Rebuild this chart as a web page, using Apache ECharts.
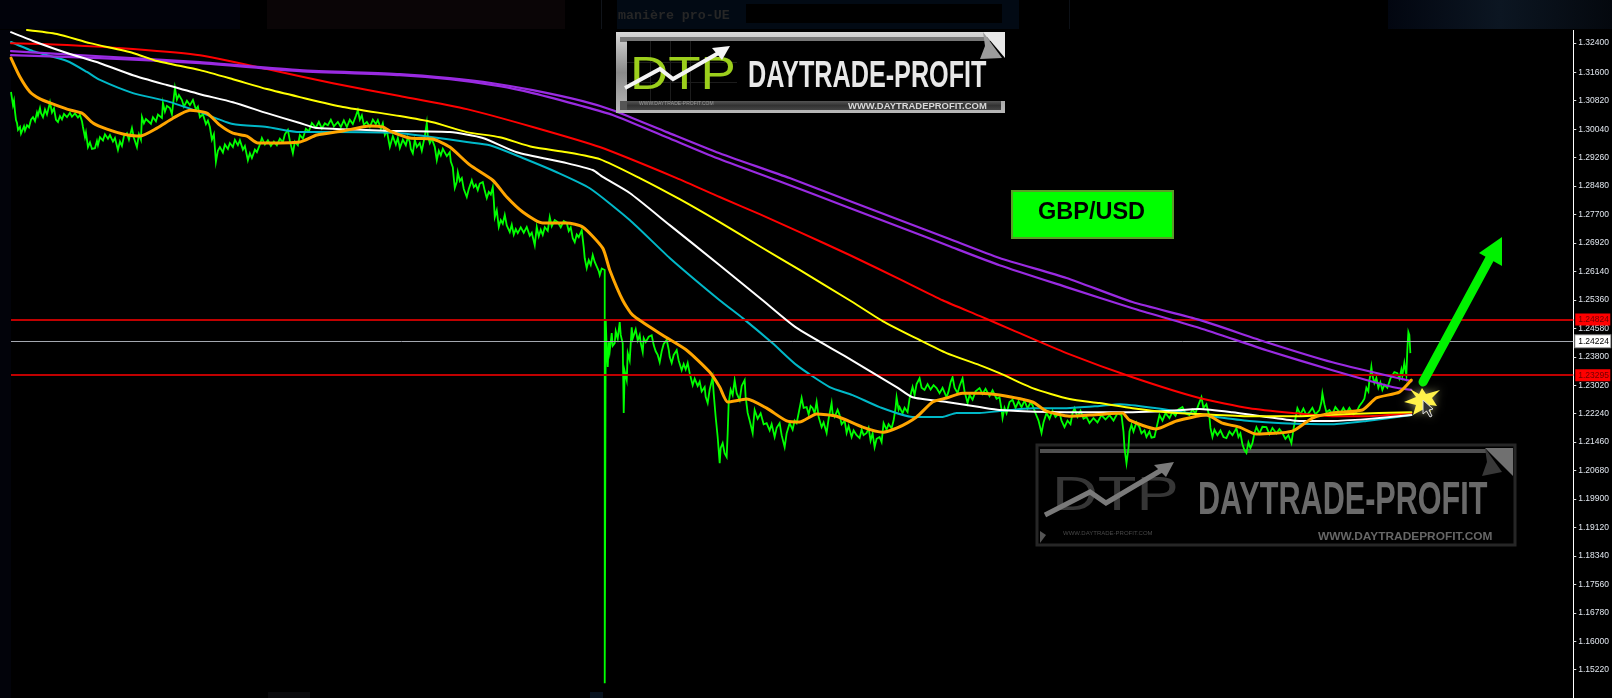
<!DOCTYPE html>
<html><head><meta charset="utf-8"><title>GBP/USD</title>
<style>html,body{margin:0;padding:0;background:#000;overflow:hidden}#c{width:1612px;height:698px}</style>
<script src="https://cdn.jsdelivr.net/npm/echarts@6/dist/echarts.min.js"></script>
</head><body><div id="c"></div>
<script>
const axisTicks=[1.324,1.316,1.3082,1.3004,1.2926,1.2848,1.277,1.2692,1.2614,1.2536,1.2458,1.238,1.2302,1.2224,1.2146,1.2068,1.199,1.1912,1.1834,1.1756,1.1678,1.16,1.1522];
const levelUpper=1.24824, levelCurrent=1.24224, levelLower=1.23295;

// [bar, close]
const priceSeries=[
[11,1.3106],[12,1.3088],[13,1.3070],[14,1.3082],[15,1.3052],[16,1.3029],[17,1.3021],[18,1.3002],[20,1.3010],[21,1.2992],[22,1.2996],[24,1.3012],[25,1.3000],[27,1.3015],[29,1.3009],[31,1.3030],[33,1.3037],[35,1.3026],[37,1.3050],[38,1.3041],[40,1.3062],[41,1.3048],[43,1.3037],[45,1.3058],[47,1.3044],[50,1.3078],[52,1.3050],[54,1.3061],[56,1.3030],[58,1.3024],[60,1.3040],[62,1.3031],[64,1.3046],[67,1.3037],[70,1.3049],[72,1.3038],[75,1.3047],[78,1.3036],[80,1.3043],[82,1.3026],[83,1.3010],[85,1.2982],[86,1.2995],[88,1.2955],[90,1.2968],[92,1.2950],[95,1.2952],[97,1.2972],[98,1.2960],[100,1.2982],[103,1.2973],[105,1.2990],[108,1.2978],[110,1.2988],[113,1.2970],[115,1.2980],[118,1.2947],[120,1.2970],[122,1.2958],[124,1.2985],[127,1.2993],[129,1.2975],[132,1.3007],[134,1.2980],[137,1.2955],[139,1.2990],[141,1.2975],[142,1.3037],[144,1.3020],[146,1.3032],[148,1.3034],[151,1.3019],[153,1.3037],[156,1.3026],[158,1.3044],[160,1.3048],[162,1.3035],[163,1.3076],[165,1.3052],[167,1.3068],[170,1.3062],[172,1.3045],[175,1.3117],[177,1.3085],[179,1.3098],[182,1.3084],[184,1.3066],[187,1.3082],[190,1.3070],[193,1.3084],[196,1.3058],[198,1.3066],[200,1.3037],[203,1.3045],[206,1.3018],[208,1.3028],[210,1.3010],[212,1.2975],[214,1.2990],[216,1.2914],[218,1.2945],[220,1.2955],[223,1.2940],[225,1.2962],[228,1.2950],[230,1.2966],[233,1.2955],[235,1.2975],[238,1.2960],[240,1.2974],[243,1.2948],[245,1.2958],[248,1.2919],[250,1.2938],[252,1.2925],[255,1.2948],[257,1.2941],[260,1.2962],[262,1.2980],[265,1.2962],[268,1.2974],[271,1.2958],[274,1.2970],[277,1.2960],[280,1.2978],[283,1.2968],[285,1.2990],[288,1.3002],[290,1.2972],[293,1.2938],[295,1.2970],[298,1.2960],[300,1.2988],[303,1.2978],[306,1.3005],[309,1.2998],[312,1.3021],[316,1.3008],[319,1.3024],[322,1.3006],[325,1.3020],[328,1.3015],[331,1.3030],[334,1.3012],[338,1.3024],[341,1.3010],[344,1.3028],[347,1.3010],[350,1.3030],[353,1.3018],[356,1.3040],[358,1.3056],[360,1.3030],[362,1.3042],[364,1.3016],[367,1.3024],[370,1.3010],[373,1.3030],[376,1.3018],[378,1.3029],[381,1.3005],[383,1.3020],[385,1.2988],[387,1.3000],[390,1.2955],[393,1.2985],[396,1.2962],[398,1.2980],[400,1.2952],[403,1.2975],[406,1.2960],[408,1.2982],[410,1.2969],[411,1.2950],[413,1.2938],[415,1.2975],[417,1.2955],[420,1.2966],[422,1.2945],[424,1.2947],[425,1.2985],[427,1.3021],[428,1.2985],[430,1.2966],[432,1.2978],[435,1.2955],[437,1.2919],[439,1.2945],[441,1.2932],[443,1.2950],[445,1.2947],[447,1.2930],[450,1.2941],[451,1.2915],[453,1.2900],[454,1.2870],[455,1.2843],[457,1.2860],[458,1.2886],[460,1.2862],[462,1.2870],[464,1.2840],[467,1.2818],[469,1.2840],[472,1.2864],[474,1.2845],[476,1.2852],[478,1.2837],[480,1.2855],[483,1.2859],[485,1.2835],[487,1.2815],[489,1.2832],[491,1.2825],[493,1.2845],[494,1.2810],[495,1.2763],[497,1.2782],[499,1.2736],[501,1.2755],[503,1.2745],[505,1.2769],[507,1.2740],[510,1.2722],[512,1.2742],[514,1.2715],[516,1.2730],[518,1.2719],[521,1.2735],[524,1.2720],[527,1.2736],[530,1.2712],[532,1.2720],[535,1.2686],[537,1.2736],[539,1.2710],[541,1.2728],[543,1.2714],[545,1.2735],[548,1.2725],[550,1.2763],[552,1.2738],[555,1.2755],[558,1.2749],[561,1.2735],[564,1.2752],[567,1.2747],[569,1.2725],[571,1.2735],[573,1.2705],[575,1.2694],[577,1.2715],[579,1.2708],[582,1.2727],[584,1.2680],[585,1.2650],[587,1.2623],[589,1.2645],[591,1.2632],[593,1.2659],[595,1.2640],[597,1.2637],[599,1.2615],[600,1.2604],[602,1.2622],[605,1.2618],[605,1.1485],[606,1.2481],
[607,1.2400],[608,1.2352],[609,1.2420],[610,1.2395],[612,1.2445],[613,1.2410],[615,1.2417],[616,1.2450],[618,1.2430],[620,1.2475],[621,1.2440],[623,1.2417],[624,1.2226],[625,1.2340],[627,1.2316],[628,1.2390],[630,1.2370],[632,1.2461],[633,1.2430],[635,1.2426],[636,1.2455],[638,1.2425],[640,1.2440],[641,1.2418],[643,1.2393],[644,1.2431],[646,1.2420],[649,1.2435],[652,1.2439],[654,1.2412],[656,1.2395],[658,1.2385],[660,1.2365],[662,1.2395],[664,1.2415],[667,1.2426],[669,1.2400],[670,1.2380],[672,1.2363],[674,1.2385],[677,1.2398],[679,1.2370],[682,1.2343],[684,1.2360],[686,1.2345],[688,1.2363],[690,1.2335],[693,1.2302],[695,1.2320],[698,1.2300],[700,1.2312],[702,1.2285],[705,1.2297],[706,1.2270],[708,1.2253],[710,1.2290],[713,1.2324],[714,1.2280],[716,1.2215],[718,1.2160],[720,1.2088],[721,1.2130],[723,1.2143],[725,1.2115],[727,1.2105],[728,1.2170],[729,1.2253],[731,1.2290],[733,1.2275],[735,1.2316],[737,1.2280],[740,1.2261],[742,1.2300],[745,1.2316],[746,1.2270],[748,1.2226],[750,1.2205],[753,1.2171],[754,1.2205],[755,1.2234],[758,1.2210],[761,1.2225],[764,1.2195],[767,1.2198],[770,1.2178],[772,1.2195],[775,1.2160],[777,1.2185],[780,1.2198],[782,1.2165],[785,1.2132],[787,1.2170],[790,1.2198],[793,1.2180],[795,1.2205],[797,1.2198],[799,1.2225],[802,1.2267],[804,1.2240],[807,1.2242],[809,1.2222],[811,1.2245],[813,1.2239],[815,1.2225],[817,1.2256],[819,1.2215],[822,1.2187],[824,1.2200],[827,1.2171],[829,1.2210],[832,1.2253],[833,1.2225],[835,1.2215],[838,1.2235],[840,1.2220],[842,1.2195],[845,1.2205],[847,1.2171],[849,1.2190],[852,1.2160],[854,1.2178],[857,1.2165],[860,1.2157],[862,1.2180],[864,1.2165],[867,1.2171],[869,1.2185],[871,1.2150],[873,1.2170],[875,1.2132],[877,1.2155],[880,1.2160],[882,1.2146],[884,1.2198],[887,1.2180],[889,1.2195],[892,1.2184],[894,1.2205],[896,1.2240],[897,1.2269],[899,1.2235],[900,1.2242],[903,1.2225],[905,1.2240],[908,1.2228],[910,1.2265],[913,1.2297],[915,1.2275],[917,1.2305],[920,1.2321],[922,1.2295],[925,1.2289],[928,1.2305],[931,1.2290],[934,1.2302],[937,1.2294],[940,1.2280],[943,1.2295],[947,1.2269],[949,1.2285],[951,1.2310],[953,1.2324],[955,1.2295],[958,1.2280],[960,1.2300],[963,1.2321],[965,1.2285],[968,1.2253],[970,1.2275],[973,1.2262],[976,1.2285],[980,1.2294],[983,1.2278],[986,1.2292],[990,1.2272],[993,1.2288],[997,1.2265],[1000,1.2269],[1002,1.2235],[1003,1.2212],[1005,1.2240],[1007,1.2225],[1010,1.2256],[1013,1.2262],[1016,1.2240],[1019,1.2258],[1022,1.2242],[1025,1.2260],[1028,1.2238],[1031,1.2255],[1033,1.2247],[1036,1.2225],[1039,1.2205],[1042,1.2171],[1044,1.2200],[1047,1.2226],[1050,1.2210],[1053,1.2232],[1056,1.2215],[1060,1.2226],[1062,1.2205],[1065,1.2187],[1068,1.2205],[1071,1.2195],[1073,1.2225],[1075,1.2239],[1078,1.2215],[1081,1.2232],[1084,1.2210],[1087,1.2215],[1090,1.2198],[1094,1.2212],[1098,1.2200],[1102,1.2220],[1106,1.2208],[1110,1.2220],[1114,1.2205],[1118,1.2225],[1122,1.2220],[1124,1.2175],[1125,1.2130],[1127,1.2088],[1129,1.2130],[1130,1.2175],[1132,1.2193],[1134,1.2175],[1137,1.2200],[1140,1.2187],[1142,1.2170],[1145,1.2178],[1147,1.2160],[1150,1.2175],[1152,1.2158],[1155,1.2160],[1157,1.2185],[1160,1.2220],[1163,1.2205],[1166,1.2225],[1170,1.2212],[1173,1.2228],[1176,1.2218],[1179,1.2236],[1183,1.2242],[1186,1.2225],[1190,1.2220],[1193,1.2235],[1196,1.2225],[1199,1.2248],[1202,1.2269],[1204,1.2240],[1207,1.2250],[1210,1.2215],[1211,1.2185],[1213,1.2160],[1215,1.2180],[1218,1.2165],[1221,1.2178],[1224,1.2160],[1227,1.2157],[1230,1.2175],[1233,1.2165],[1237,1.2184],[1239,1.2160],[1241,1.2170],[1243,1.2140],[1245,1.2124],[1247,1.2116],[1249,1.2145],[1251,1.2130],[1253,1.2143],[1255,1.2170],[1257,1.2187],[1260,1.2170],[1263,1.2188],[1267,1.2187],[1270,1.2168],[1273,1.2185],[1277,1.2170],[1280,1.2182],[1283,1.2171],[1286,1.2155],[1289,1.2165],[1292,1.2143],[1294,1.2180],[1296,1.2210],[1298,1.2239],[1301,1.2222],[1304,1.2238],[1307,1.2220],[1310,1.2228],[1313,1.2240],[1316,1.2222],[1320,1.2234],[1322,1.2255],[1323,1.2280],[1325,1.2250],[1327,1.2228],[1330,1.2234],[1333,1.2222],[1336,1.2242],[1338,1.2247],[1341,1.2225],[1344,1.2240],[1347,1.2226],[1350,1.2240],[1354,1.2222],[1357,1.2228],[1360,1.2245],[1363,1.2256],[1365,1.2265],[1367,1.2295],[1369,1.2285],[1370,1.2316],[1371,1.2330],[1372,1.2352],[1373,1.2330],[1375,1.2308],[1377,1.2322],[1379,1.2295],[1381,1.2310],[1383,1.2289],[1385,1.2303],[1388,1.2295],[1391,1.2320],[1393,1.2316],[1395,1.2338],[1398,1.2335],[1400,1.2320],[1402,1.2345],[1403,1.2328],[1405,1.2363],[1406,1.2345],[1407,1.2330],[1408,1.2400],[1409,1.2448],[1410,1.2440],[1411,1.2390]];

const cyanBars=[11,33,67,87,100,133,167,200,233,267,300,333,400,433,467,490,523,557,590,630,670,720,743,773,797,830,853,880,913,943,957,980,1000,1033,1067,1100,1120,1157,1183,1217,1250,1283,1333,1367,1412];
const cyanMA=[1.3243,1.3218,1.3191,1.3161,1.3139,1.3103,1.3081,1.3051,1.3018,1.3010,1.2996,1.2996,1.2993,1.2982,1.2969,1.2960,1.2925,1.2886,1.2842,1.2755,1.2651,1.2535,1.2486,1.2417,1.2357,1.2297,1.2275,1.2242,1.2215,1.2215,1.2226,1.2226,1.2231,1.2239,1.2239,1.2245,1.2250,1.2239,1.2228,1.2215,1.2204,1.2198,1.2195,1.2204,1.2220];

const redBars=[11,67,133,200,267,333,400,467,533,600,677,720,760,800,850,900,943,980,1013,1067,1133,1200,1250,1293,1333,1367,1412];
const redMA=[1.3240,1.3235,1.3224,1.3207,1.3169,1.3130,1.3095,1.3059,1.3010,1.2955,1.2870,1.2818,1.2771,1.2722,1.2659,1.2593,1.2535,1.2492,1.2453,1.2390,1.2324,1.2267,1.2239,1.2226,1.2217,1.2217,1.2226];

const purpleUpperBars=[11,100,200,300,400,450,493,533,583,613,667,717,790,850,900,950,1000,1067,1133,1200,1267,1333,1412];
const purpleUpperMA=[1.3218,1.3204,1.3188,1.3166,1.3155,1.3144,1.3130,1.3111,1.3081,1.3056,1.2996,1.2941,1.2870,1.2807,1.2755,1.2703,1.2651,1.2596,1.2530,1.2481,1.2420,1.2365,1.2313];
const purpleLowerBars=[11,100,200,300,400,450,500,533,583,613,667,717,777,850,900,950,1000,1067,1133,1200,1267,1333,1393,1412];
const purpleLowerMA=[1.3207,1.3199,1.3185,1.3163,1.3152,1.3141,1.3122,1.3103,1.3067,1.3043,1.2982,1.2925,1.2864,1.2788,1.2736,1.2683,1.2631,1.2571,1.2513,1.2459,1.2398,1.2343,1.2297,1.2289];

const whiteBars=[11,33,67,100,133,167,200,233,267,300,317,400,450,483,517,567,593,603,630,670,720,763,797,847,897,913,947,980,1000,1067,1133,1167,1200,1233,1267,1300,1333,1367,1412];
const whiteMA=[1.3270,1.3246,1.3213,1.3185,1.3152,1.3125,1.3100,1.3078,1.3048,1.3021,1.3007,1.2999,1.2996,1.2980,1.2941,1.2911,1.2892,1.2873,1.2829,1.2741,1.2631,1.2535,1.2459,1.2379,1.2297,1.2269,1.2256,1.2242,1.2234,1.2228,1.2228,1.2231,1.2237,1.2228,1.2215,1.2204,1.2204,1.2209,1.2220];

const yellowBars=[27,57,90,133,157,200,233,267,300,343,400,433,467,500,533,567,600,640,680,720,760,800,850,883,920,947,980,1000,1033,1070,1100,1133,1167,1200,1250,1300,1350,1412];
const yellowMA=[1.3276,1.3265,1.3240,1.3213,1.3191,1.3166,1.3141,1.3114,1.3092,1.3065,1.3040,1.3023,1.2996,1.2982,1.2955,1.2941,1.2922,1.2870,1.2812,1.2749,1.2683,1.2618,1.2535,1.2478,1.2426,1.2390,1.2357,1.2335,1.2294,1.2264,1.2253,1.2239,1.2228,1.2223,1.2217,1.2217,1.2223,1.2228];

const orangeBars=[11,20,30,40,50,67,82,93,107,123,140,157,173,190,207,220,233,247,258,300,317,343,370,383,390,410,433,450,470,493,507,523,543,567,583,603,610,623,633,663,687,710,720,728,747,767,787,800,817,837,863,883,897,917,933,947,963,980,1000,1033,1047,1070,1090,1123,1130,1157,1177,1207,1223,1240,1257,1293,1313,1333,1363,1377,1400,1412];
const orangeMA=[1.3199,1.3147,1.3106,1.3087,1.3076,1.3059,1.3048,1.3021,1.3004,1.2991,1.2985,1.3007,1.3034,1.3056,1.3048,1.3015,1.2993,1.2985,1.2966,1.2969,1.2988,1.2999,1.3013,1.3010,1.2999,1.2980,1.2977,1.2955,1.2906,1.2864,1.2818,1.2777,1.2747,1.2747,1.2736,1.2678,1.2618,1.2535,1.2494,1.2439,1.2398,1.2338,1.2297,1.2256,1.2264,1.2239,1.2204,1.2201,1.2223,1.2217,1.2187,1.2173,1.2184,1.2215,1.2256,1.2267,1.2280,1.2280,1.2275,1.2256,1.2231,1.2217,1.2220,1.2226,1.2206,1.2182,1.2204,1.2220,1.2198,1.2187,1.2168,1.2176,1.2212,1.2226,1.2234,1.2267,1.2283,1.2316];

const zip=(a,b)=>a.map((v,i)=>[v,b[i]]);
const maLine=(name,bars,vals,color,width,z)=>({name,type:'line',data:zip(bars,vals),symbol:'none',smooth:0.2,z,
  lineStyle:{color,width,cap:'round',join:'round'},silent:true});
const tag=(bg,fg,border)=>({show:true,position:'end',distance:2,formatter:p=>p.value.toFixed(5),
  backgroundColor:bg,color:fg,borderColor:border,borderWidth:border==='transparent'?0:1,
  fontFamily:'Liberation Sans',fontSize:8.5,padding:[2,3,1,3],width:29,align:'left'});

const rect=(x,y,w,h,fill,z,extra)=>Object.assign({type:'rect',shape:{x,y,width:w,height:h},style:{fill},z:z||1,silent:true},extra||{});
const poly=(pts,fill,z,stroke,lw,glow)=>({type:'polygon',shape:{points:pts},style:Object.assign({fill,stroke:stroke||null,lineWidth:lw||0},glow?{shadowBlur:glow,shadowColor:'#8a8a60'}:{}),z:z||1,silent:true});
const pline=(pts,stroke,lw,z,cap)=>({type:'polyline',shape:{points:pts},style:{stroke,lineWidth:lw,fill:null,lineCap:cap||'butt',lineJoin:'miter'},z:z||1,silent:true});
const txt=(text,x,y,font,fill,z,sx)=>({type:'text',x,y,scaleX:sx||1,silent:true,z:z||1,
  style:{text,font,fill,textVerticalAlign:'top',textAlign:'left'}});
const vg=(c1,c2,c3)=>({type:'linear',x:0,y:0,x2:0,y2:1,colorStops:[{offset:0,color:c1},{offset:.5,color:c2},{offset:1,color:c3}]});

const Z1=30,Z2=1;
const graphics=[
  rect(0,0,1612,30,'#000',Z2),
  rect(0,0,240,29,'#01020a',Z2),
  rect(267,0,298,29,'#0a0506',Z2),
  rect(601,0,1,29,'#10141a',Z2),
  rect(617,0,402,29,'#020a14',Z2),
  rect(746,4,256,19,'#000',Z2),
  rect(1069,0,1,29,'#0c1016',Z2),
  {type:'rect',shape:{x:1388,y:0,width:224,height:29},silent:true,z:Z2,style:{fill:{type:'linear',x:0,y:0,x2:1,y2:0,colorStops:[{offset:0,color:'#020610'},{offset:.5,color:'#0c1622'},{offset:1,color:'#04080e'}]}}},
  txt('manière pro-UE',618,9,'bold 13.3px "Liberation Mono"','#262626',Z2),
  rect(0,30,11,668,'#02030a',Z2),
  rect(590,692,13,6,'#07121e',Z2),
  rect(268,692,42,6,'#0a0a0c',Z2),

  rect(1037,445,478,100,'#000',Z2,{style:{fill:'#000',stroke:'#262626',lineWidth:3}}),
  rect(1040,449,446,4,'#505050',Z2),
  poly([[1485,448],[1513,448],[1513,476]],'#707070',Z2),
  poly([[1485,448],[1502,472],[1482,476],[1487,462]],'#383838',Z2),
  poly([[1040,531],[1046,535],[1040,543]],'#555',Z2),
  txt('DTP',1052,473,'48px "Liberation Sans"','#363636',Z2,1.32),
  pline([[1045,515],[1090,492],[1106,503],[1165,468]],'#7a7a7a',5,Z2),
  poly([[1174,462],[1154,465],[1166,477]],'#7a7a7a',Z2),
  txt('DAYTRADE-PROFIT',1198,478,'bold 46px "Liberation Sans"','#6a6a6a',Z2,0.665),
  txt('WWW.DAYTRADEPROFIT.COM',1318,531,'bold 11px "Liberation Sans"','#666',Z2,1.08),
  txt('WWW.DAYTRADE-PROFIT.COM',1063,530,'6px "Liberation Sans"','#484848',Z2,1),

  rect(616,32,389,81,vg('#d8d8d8','#8a8a8a','#b8b8b8'),Z1),
  rect(620,37,381,5,'#777',Z1),
  rect(627,41,378,60,'#000',Z1),
  rect(627,101,374,9,vg('#555','#333','#444'),Z1),
  rect(620,101,7,9,'#555',Z1),
  poly([[983,32],[1005,32],[1005,58]],'#e8e8e8',Z1),
  poly([[983,32],[1002,58],[980,59],[985,46]],'#9c9c9c',Z1),
  rect(650,41,1,60,'#1c1c1c',Z1),rect(670,41,1,60,'#1c1c1c',Z1),rect(690,41,1,60,'#1c1c1c',Z1),rect(627,62,110,1,'#1c1c1c',Z1),rect(627,82,110,1,'#1c1c1c',Z1),
  txt('DTP',630,53,'46px "Liberation Sans"','#9ccf1c',Z1,1.15),
  pline([[625,88],[660,69],[673,79],[722,51]],'#f4f4f4',4,Z1),
  poly([[730,46],[712,48],[722,60]],'#f4f4f4',Z1),
  txt('DAYTRADE-PROFIT',748,59,'bold 36px "Liberation Sans"','#e8e8e8',Z1,0.7),
  txt('WWW.DAYTRADEPROFIT.COM',848,102,'bold 9px "Liberation Sans"','#d8d8d8',Z1,1.05),
  txt('WWW.DAYTRADE-PROFIT.COM',639,101,'5px "Liberation Sans"','#999',Z1,1),

  rect(1012,191,161,47,'#00ff00',Z1,{style:{fill:'#00ff00',stroke:'#5a9e28',lineWidth:2}}),
  txt('GBP/USD',1038,201,'bold 23.5px "Liberation Sans"','#000',Z1),

  pline([[1423,382],[1490,258]],'#00f200',9,Z1,'round'),
  poly([[1502,237],[1479,253],[1502,266]],'#00f200',Z1),
  poly([[1422,388],[1426,394],[1440,390],[1432,398],[1437,406],[1430,405],[1431,417],[1424,409],[1413,415],[1416,405],[1404,402],[1416,397],[1410,389],[1419,394]],'#fff24a',Z1,null,0,8),
  poly([[1423,400],[1423,414],[1426.5,411],[1430,417],[1432,416],[1429,410],[1433,409]],'#333',Z1,'#ddd',1)
];

const chart=echarts.init(document.getElementById('c'),null,{renderer:'canvas'});
chart.setOption({
  animation:false,backgroundColor:'#000',
  grid:{left:11,right:38,top:30,bottom:0,containLabel:false},
  xAxis:{type:'value',min:11,max:1574,show:false},
  yAxis:{type:'value',position:'right',min:1.14443,max:1.3276,scale:true,
    axisLine:{show:true,onZero:false,lineStyle:{color:'#fff',width:1}},
    axisTick:{show:true,length:3,customValues:axisTicks,lineStyle:{color:'#ddd',width:1}},
    splitLine:{show:false},
    axisLabel:{show:true,customValues:axisTicks,margin:5,color:'#e0e6ee',fontFamily:'Liberation Sans',fontSize:8.5,
      formatter:v=>v.toFixed(5)}},
  graphic:{elements:graphics},
  series:[
    {name:'Levels',type:'line',data:[],z:2,silent:true,markLine:{silent:true,symbol:'none',animation:false,precision:5,
      data:[
        {yAxis:levelUpper,lineStyle:{color:'#c00000',width:2,type:'solid'},label:tag('#ff0000','#700000','transparent')},
        {yAxis:levelLower,lineStyle:{color:'#c00000',width:2,type:'solid'},label:tag('#ff0000','#700000','transparent')},
        {yAxis:levelCurrent,lineStyle:{color:'#a4a8b0',width:1,type:'solid'},label:tag('#ffffff','#000000','#888888')}
      ]}},
    {name:'GBP/USD',type:'line',data:priceSeries,symbol:'none',z:3,silent:true,
      lineStyle:{color:'#00ff00',width:1.8,join:'miter'}},
    maLine('Cyan MA',cyanBars,cyanMA,'#00b8c8',2,4),
    maLine('Red MA',redBars,redMA,'#ff0000',2,5),
    maLine('Purple MA upper',purpleUpperBars,purpleUpperMA,'#9a2be2',2.2,6),
    maLine('Purple MA lower',purpleLowerBars,purpleLowerMA,'#9a2be2',2.2,6),
    maLine('White MA',whiteBars,whiteMA,'#ffffff',2,7),
    maLine('Yellow MA',yellowBars,yellowMA,'#ffff00',2,8),
    maLine('Orange MA',orangeBars,orangeMA,'#ffa500',3,9)
  ]
});
</script></body></html>
